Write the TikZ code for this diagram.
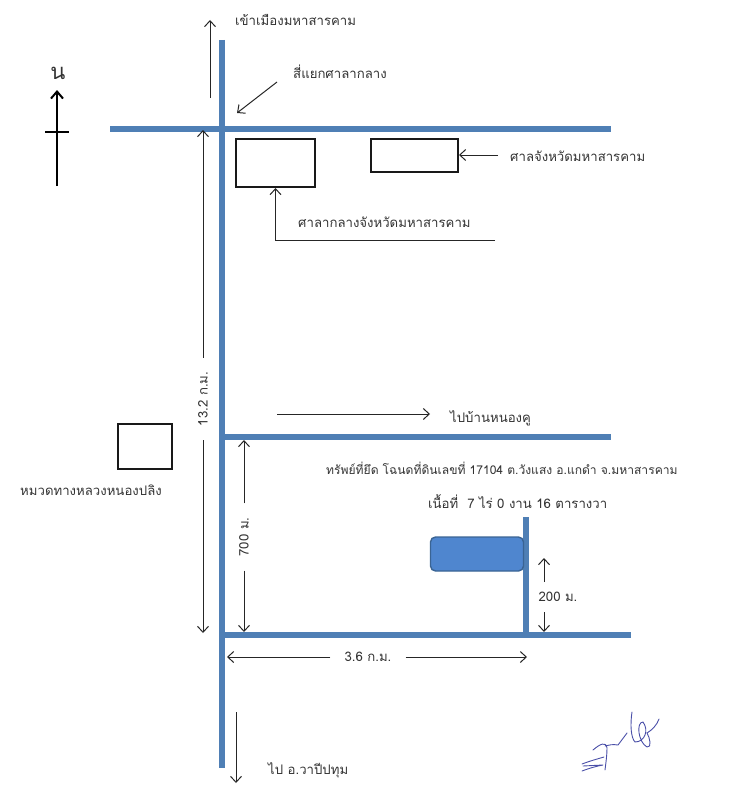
\documentclass[tikz,border=0pt]{standalone}
\usepackage{fontspec}
\setmainfont[Script=Thai]{Loma}
\usepackage{xcolor}
\usetikzlibrary{arrows.meta,positioning,calc}
\definecolor{roadblue}{HTML}{4F7FB5}
\definecolor{lotblue}{HTML}{4F86CF}
\definecolor{lotedge}{HTML}{3A6494}
\definecolor{inkgrey}{HTML}{333333}
\definecolor{signink}{HTML}{4A4FA8}

\begin{document}
\begin{tikzpicture}[x=1pt,y=-1pt,>={Straight Barb[length=6pt,width=11pt]},
    road/.style={draw=roadblue, line width=6.5pt},
    bldg/.style={rectangle, draw=black!90, line width=2pt, inner sep=0pt},
    lbl/.style={text=inkgrey, font=\fontsize{13.2}{15}\selectfont, inner sep=0pt},
    dim/.style={lbl, inner sep=14pt},
    pointer/.style={->, draw=black!85, line width=1pt}]
    \useasboundingbox (0,0) rectangle (735,800);
    % roads
    \coordinate (mainN) at (222,40);
    \coordinate (mainS) at (222,768);
    \coordinate (topW) at (110,129);
    \coordinate (topE) at (611,129);
    \coordinate (midW) at (222,437);
    \coordinate (midE) at (611,437);
    \coordinate (lowW) at (222,635);
    \coordinate (lowE) at (631,635);
    \coordinate (lotN) at (526,517);
    \coordinate (lotS) at (526,635);
    \draw[road] (topW) -- (topE);
    \draw[road] (midW) -- (midE);
    \draw[road] (lowW) -- (lowE);
    \draw[road] (mainN) -- (mainS);
    \draw[road, line width=5.5pt] (lotN) -- (lotS);
    % buildings
    \node[bldg, minimum width=79pt, minimum height=48pt] (hall) at (275.5,163) {};
    \node[bldg, minimum width=87pt, minimum height=33pt] (court) at (414.5,155) {};
    \node[bldg, minimum width=54pt, minimum height=45pt] (depot) at (145,446.5) {};
    \node[rectangle, rounded corners=5pt, draw=lotedge, fill=lotblue, line width=1.4pt,
        minimum width=93pt, minimum height=34pt, inner sep=0pt] (lot) at (477,554) {};
    % labels
    \node[lbl, anchor=west] (toCity) at (235,20) {เข้าเมืองมหาสารคาม};
    \node[lbl, anchor=west] (junction) at (293,72) {สี่แยกศาลากลาง};
    \node[lbl, anchor=west] (courtName) at (510,156) {ศาลจังหวัดมหาสารคาม};
    \node[lbl, anchor=west] (hallName) at (298,222) {ศาลากลางจังหวัดมหาสารคาม};
    \node[lbl, anchor=west] (toVillage) at (450,418) {ไปบ้านหนองคู};
    \node[lbl, anchor=west, font=\fontsize{12.1}{15}\selectfont] (seized) at (326,468) {ทรัพย์ที่ยึด โฉนดที่ดินเลขที่ 17104 ต.วังแสง อ.แกดำ จ.มหาสารคาม};
    \node[lbl, anchor=west] (area) at (428,502) {เนื้อที่~~7 ไร่ 0 งาน 16 ตารางวา};
    \node[lbl, anchor=west] (depotName) at (20,490) {หมวดทางหลวงหนองปลิง};
    \node[lbl, anchor=west] (toSouth) at (268,770) {ไป อ.วาปีปทุม};
    \node[lbl, font=\fontsize{22}{24}\selectfont] (north) at (58,73) {น};
    % dimensions
    \node[dim, rotate=90] (dimLong) at (203,399) {13.2 ก.ม.};
    \node[dim, rotate=90] (dimSide) at (244,537) {700 ม.};
    \node[dim] (dimEast) at (368,657) {3.6 ก.ม.};
    \node[dim] (dimLot) at (558,597) {200 ม.};
    \draw[pointer] (dimLong.east) -- (203,130);
    \draw[pointer] (dimLong.west) -- (203,633);
    \draw[pointer] (dimSide.east) -- (244,440);
    \draw[pointer] (dimSide.west) -- (244,632);
    \draw[pointer] (dimEast.west) -- (227,657);
    \draw[pointer] (dimEast.east) -- (527,657);
    \draw[pointer] (544,582) -- (544,558);
    \draw[pointer] (544,612) -- (544,632);
    % pointers
    \draw[pointer] (210,98) -- (210,20);
    \draw[pointer] (277,82) -- (237,113);
    \draw[pointer] (498,155) -- (court.east);
    \draw[pointer] (495,240) -- (275.5,240) -- (hall.south);
    \draw[pointer] (277,414) -- (430,414);
    \draw[pointer] (236,712) -- (236,783);
    % north sign
    \draw[->, line width=2pt, >={Straight Barb[length=7pt,width=12pt]}] (57,186) -- (57,90);
    \draw[line width=1.4pt] (45,132) -- (69,132);
    % signature
    \draw[signink, line width=0.9pt, line join=round, line cap=round]
        (582,764) .. controls (590,761) and (597,759) .. (604,757)
        (582,771) .. controls (590,768) and (597,766) .. (603,765) -- (583,766)
        (593,750) .. controls (600,744) and (606,741) .. (607,748) .. controls (607,755) and (606,762) .. (605,770)
        (605,746) .. controls (610,745) and (612,744) .. (618,745) -- (627,733)
        (632,712) .. controls (630,725) and (631,738) .. (635,742) .. controls (645,742) and (649,730) .. (643,722)
        .. controls (636,722) and (638,742) .. (647,747) .. controls (652,748) and (650,738) .. (647,733)
        .. controls (652,730) and (657,725) .. (659,719);
\end{tikzpicture}
\end{document}
